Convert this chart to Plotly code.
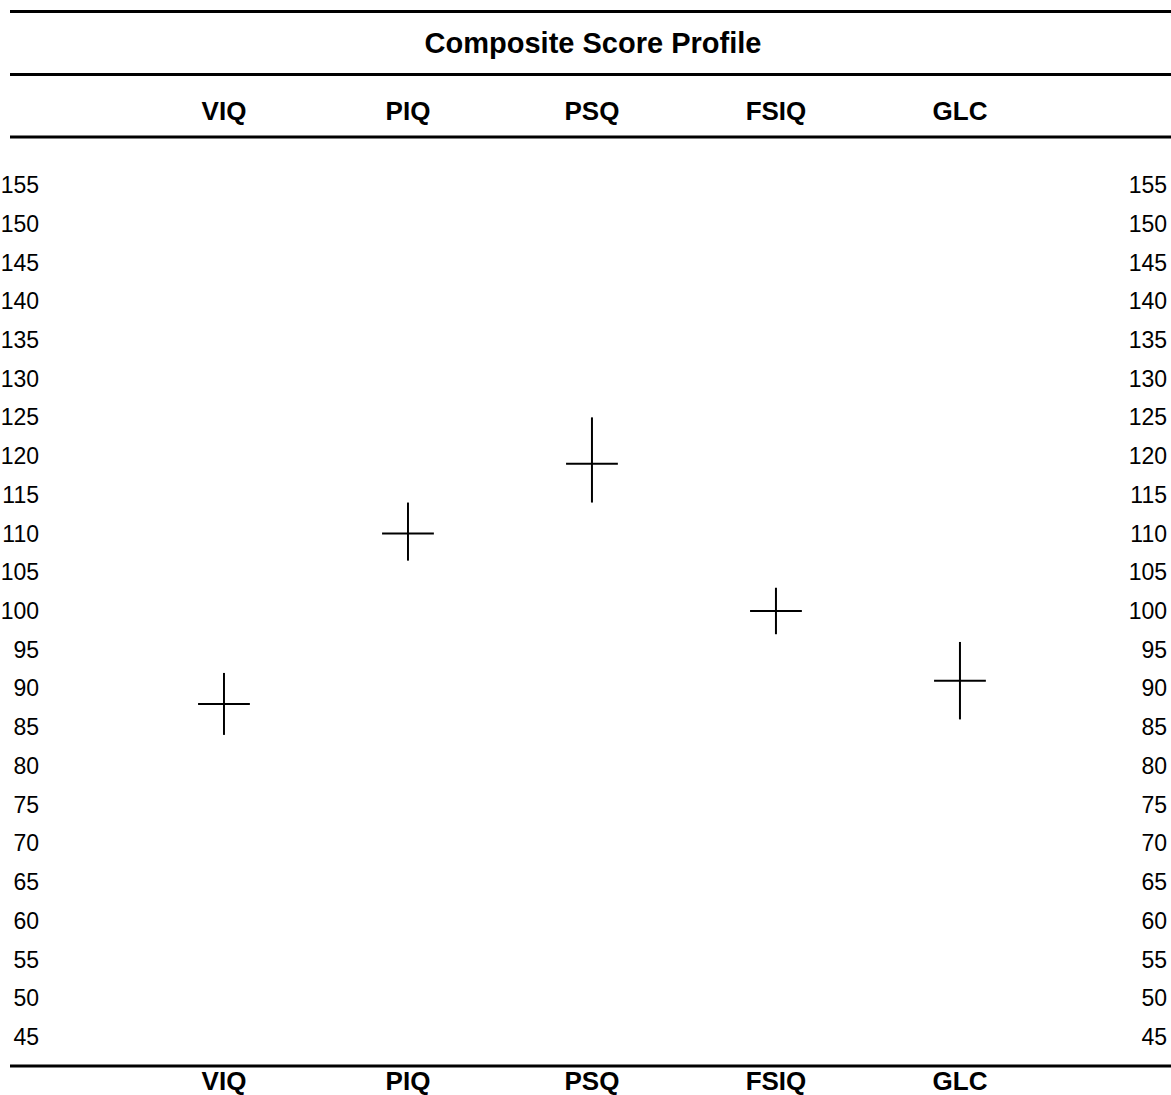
import plotly.graph_objects as go

# ---- data ----
categories = ["VIQ", "PIQ", "PSQ", "FSIQ", "GLC"]
scores = [88, 110, 119, 100, 91]
ci_low = [84, 106.5, 114, 97, 86]
ci_high = [92, 114, 125, 103, 96]
y_ticks = list(range(45, 160, 5))
title_text = "Composite Score Profile"

err_plus = [h - s for h, s in zip(ci_high, scores)]
err_minus = [s - l for s, l in zip(scores, ci_low)]

FONT = "Liberation Sans, Arial, sans-serif"
W, H = 1171, 1095
L, R, T, B = 42, 0, 138, 29
plot_w = W - L - R
plot_h = H - T - B

y_range = [41.25, 161.07]
x_range = [-0.989, 5.147]

fig = go.Figure()
fig.add_trace(go.Scatter(
    x=categories, y=scores, mode="markers",
    marker=dict(symbol="line-ew", size=37, color="black",
                line=dict(color="black", width=2)),
    error_y=dict(type="data", symmetric=False, array=err_plus,
                 arrayminus=err_minus, color="black", thickness=2, width=0),
    showlegend=False, hoverinfo="x+y",
))
# companion trace for the mirrored (top / right) axes
fig.add_trace(go.Scatter(
    x=categories, y=scores, mode="none", xaxis="x2", yaxis="y2",
    showlegend=False, hoverinfo="skip",
))

def px_to_paper_y(p):
    return (H - B - p) / plot_h

def px_to_paper_x(p):
    return (p - L) / plot_w

line_style = dict(color="black", width=3)
for py in (11.5, 74.5, 137, H - B):
    fig.add_shape(type="line", xref="paper", yref="paper",
                  x0=px_to_paper_x(10), x1=1.0,
                  y0=px_to_paper_y(py), y1=px_to_paper_y(py),
                  line=line_style)

fig.update_layout(
    width=W, height=H,
    margin=dict(l=L, r=R, t=T, b=B, pad=0, autoexpand=False),
    paper_bgcolor="white", plot_bgcolor="white",
    font=dict(family=FONT, color="black"),
    title=dict(text="<b>" + title_text + "</b>", x=593 / W, xanchor="center",
               y=1 - 42.5 / H, yanchor="middle", xref="container", yref="container",
               font=dict(family=FONT, size=29, color="black")),
    xaxis=dict(type="category", categoryorder="array", categoryarray=categories,
               range=x_range, showgrid=False, zeroline=False, showline=False,
               ticks="", ticklabelstandoff=-3, automargin=False,
               tickfont=dict(family=FONT, size=26, color="black", weight="bold")),
    xaxis2=dict(type="category", categoryorder="array", categoryarray=categories,
                range=x_range, overlaying="x", side="top", showgrid=False,
                zeroline=False, showline=False, ticks="", ticklabelstandoff=12,
                automargin=False,
                tickfont=dict(family=FONT, size=26, color="black", weight="bold")),
    yaxis=dict(range=y_range, tickvals=y_ticks, showgrid=False, zeroline=False,
               showline=False, ticks="", ticklabelstandoff=2, automargin=False,
               tickfont=dict(family=FONT, size=23, color="black")),
    yaxis2=dict(range=y_range, tickvals=y_ticks, overlaying="y", side="right",
                showgrid=False, zeroline=False, showline=False, ticks="",
                ticklabelposition="inside", ticklabelstandoff=1, automargin=False,
                tickfont=dict(family=FONT, size=23, color="black")),
)

fig.write_html("out.html", config={"displayModeBar": False},
               post_script="document.body.style.margin='0';document.body.style.overflow='hidden';")
